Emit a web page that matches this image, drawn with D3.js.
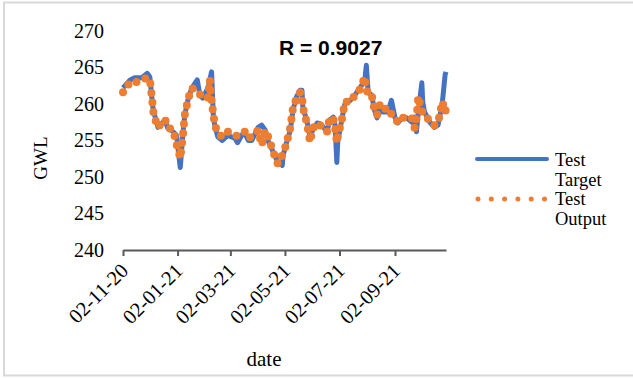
<!DOCTYPE html>
<html>
<head>
<meta charset="utf-8">
<script src="https://cdn.jsdelivr.net/npm/d3@7"></script>
<style>
	body { margin: 0; background: #fff; }
	svg { display: block; }
</style>
</head>
<body>
<svg id="chart" width="633" height="378"></svg>
<script>
// dates of the readings
var dates = [
	"2020-11-02","2020-11-10","2020-11-15","2020-11-23","2020-11-29","2020-12-02","2020-12-04","2020-12-06",
	"2020-12-10","2020-12-11","2020-12-19","2020-12-22","2020-12-28","2021-01-01","2021-01-02","2021-01-05",
	"2021-01-08","2021-01-10","2021-01-14","2021-01-18","2021-01-24","2021-01-27","2021-01-30","2021-02-05",
	"2021-02-07","2021-02-09","2021-02-11","2021-02-13","2021-02-16","2021-02-21","2021-02-27","2021-03-07",
	"2021-03-10","2021-03-15","2021-03-18","2021-03-22","2021-03-26","2021-04-02","2021-04-06","2021-04-10",
	"2021-04-13","2021-04-19","2021-04-24","2021-04-29","2021-04-30","2021-05-04","2021-05-08","2021-05-11",
	"2021-05-15","2021-05-19","2021-05-21","2021-05-22","2021-05-27","2021-05-30","2021-06-02","2021-06-07",
	"2021-06-10","2021-06-12","2021-06-18","2021-06-21","2021-06-25","2021-06-27","2021-06-29","2021-06-30",
	"2021-07-05","2021-07-08","2021-07-14","2021-07-19","2021-07-23","2021-07-27","2021-07-30","2021-08-01",
	"2021-08-03","2021-08-07","2021-08-10","2021-08-13","2021-08-16","2021-08-19","2021-08-25","2021-08-29",
	"2021-09-02","2021-09-05","2021-09-10","2021-09-15","2021-09-21","2021-09-24","2021-09-26","2021-09-28",
	"2021-10-02","2021-10-03","2021-10-05","2021-10-11","2021-10-16","2021-10-20","2021-10-23","2021-10-25",
	"2021-10-28","2021-10-29"
];
// observed GWL (Test Target)
var target = [
	262.2,263.3,263.6,263.6,264.2,263.7,261.2,258.9,
	257.5,256.8,257.8,256.7,256.2,255.7,254.4,251.3,
	256.0,258.5,260.8,262.2,263.3,261.2,260.8,262.2,
	263.3,264.4,258.2,256.8,255.5,255.0,255.7,255.3,
	254.7,255.8,256.0,255.0,255.0,256.8,257.1,256.4,
	255.0,253.4,252.0,251.6,253.0,254.8,256.4,259.2,
	261.0,261.9,261.9,259.6,257.4,255.5,256.4,257.4,
	257.3,257.1,256.2,257.8,258.2,257.1,252.0,254.8,
	258.2,260.0,260.5,261.2,261.9,262.6,263.0,265.3,
	261.6,261.2,259.2,258.1,259.9,258.9,258.9,260.5,
	258.1,257.4,258.1,258.1,257.5,258.2,256.2,258.8,
	262.9,260.3,258.9,257.5,256.8,257.1,258.9,260.3,
	264.0,264.4
];
// model GWL (Test Output)
var output = [
	261.6,263.0,262.9,263.3,263.6,263.4,261.2,258.9,
	257.0,256.8,257.9,256.8,256.4,254.4,254.0,252.6,
	255.7,258.5,260.8,262.2,261.6,261.3,260.8,260.9,
	263.3,260.5,258.5,257.0,256.0,255.5,256.2,255.7,
	255.6,256.0,256.2,255.3,255.6,256.4,254.4,256.4,
	255.6,253.4,251.8,253.0,253.2,254.7,256.8,259.5,
	260.8,261.6,261.2,259.6,257.1,254.8,256.6,257.4,
	257.1,257.0,256.2,258.1,258.0,256.8,254.7,255.5,
	258.1,260.3,260.3,261.2,261.6,262.6,263.7,262.2,
	261.2,261.2,259.2,258.5,259.9,259.2,259.5,258.6,
	258.1,257.5,258.2,257.8,258.0,256.7,258.0,261.0,
	259.0,258.9,258.8,257.5,257.1,257.4,259.2,260.3,
	258.9,259.3
];
var yTicks = [240, 245, 250, 255, 260, 265, 270];
var xTicks = ["2020-11-02","2021-01-02","2021-03-02","2021-05-02","2021-07-02","2021-09-02"];
var seriesNames = [["Test", "Target"], ["Test", "Output"]];
var rText = "R = 0.9027";

var parse = d3.timeParse("%Y-%m-%d");
var rows = dates.map(function(d, i){
	return {date: parse(d), target: target[i], output: output[i]};
});

var svg = d3.select("#chart");
var blue = "#4472C4", orange = "#ED7D31";
var serif = "'Liberation Serif', 'Times New Roman', serif";

//outer frame
svg.append("rect")
	.attr("x", 4).attr("y", 2.5)
	.attr("width", 640).attr("height", 373)
	.attr("fill", "none")
	.attr("stroke", "#d9d9d9")
	.attr("stroke-width", 2);

var x = d3.scaleTime()
	.domain([parse(dates[0]), parse(dates[dates.length - 1])])
	.range([123, 446]);
var y = d3.scaleLinear().domain([240, 270]).range([250, 31]);

//x axis
var xAxis = svg.append("g")
	.attr("transform", "translate(0,250)")
	.call(d3.axisBottom(x)
		.tickValues(xTicks.map(parse))
		.tickFormat(d3.timeFormat("%d-%m-%y"))
		.tickSize(6)
		.tickSizeOuter(0));
xAxis.select(".domain").attr("stroke", "#595959").attr("stroke-width", 2);
xAxis.selectAll(".tick line").attr("stroke", "#595959").attr("stroke-width", 2);
xAxis.selectAll(".tick text")
	.attr("font-family", serif)
	.attr("font-size", "20.5px")
	.attr("fill", "#000")
	.attr("text-anchor", "end")
	.attr("dy", null)
	.attr("y", 0)
	.attr("transform", "translate(6,22) rotate(-45)");

//y axis, labels only
var yAxis = svg.append("g")
	.attr("transform", "translate(123,0)")
	.call(d3.axisLeft(y).tickValues(yTicks).tickSize(0).tickPadding(19));
yAxis.select(".domain").remove();
yAxis.selectAll(".tick text")
	.attr("font-family", serif)
	.attr("font-size", "20px")
	.attr("fill", "#000");

//lines
var lineT = d3.line().x(function(d){return x(d.date)}).y(function(d){return y(d.target)});
var lineO = d3.line().x(function(d){return x(d.date)}).y(function(d){return y(d.output)});

svg.append("path")
	.datum(rows)
	.attr("d", lineT)
	.attr("fill", "none")
	.attr("stroke", blue)
	.attr("stroke-width", 5)
	.attr("stroke-linejoin", "round");

svg.append("path")
	.datum(rows)
	.attr("d", lineO)
	.attr("fill", "none")
	.attr("stroke", orange)
	.attr("stroke-width", 8)
	.attr("stroke-linecap", "round")
	.attr("stroke-linejoin", "round")
	.attr("stroke-dasharray", "0, 9.5");

//R value
svg.append("text")
	.text(rText)
	.attr("x", 279)
	.attr("y", 55)
	.attr("font-family", "'Liberation Sans', Arial, sans-serif")
	.attr("font-weight", "bold")
	.attr("font-size", "21px")
	.attr("fill", "#000");

//axis titles
svg.append("text")
	.text("date")
	.attr("x", 264)
	.attr("y", 366)
	.attr("text-anchor", "middle")
	.attr("font-family", serif)
	.attr("font-size", "21px");

svg.append("text")
	.text("GWL")
	.attr("transform", "translate(47,158) rotate(-90)")
	.attr("text-anchor", "middle")
	.attr("font-family", serif)
	.attr("font-size", "19px");

//legend
var legend = svg.append("g");
legend.append("line")
	.attr("x1", 477).attr("x2", 547)
	.attr("y1", 159).attr("y2", 159)
	.attr("stroke", blue)
	.attr("stroke-width", 4)
	.attr("stroke-linecap", "round");
legend.append("line")
	.attr("x1", 478).attr("x2", 545)
	.attr("y1", 199).attr("y2", 199)
	.attr("stroke", orange)
	.attr("stroke-width", 5)
	.attr("stroke-linecap", "round")
	.attr("stroke-dasharray", "0, 13.3");

legend.selectAll("text.leg")
	.data(seriesNames)
	.enter().append("text")
	.attr("class", "leg")
	.attr("x", 555)
	.attr("y", function(d, i){return 166 + i * 39})
	.attr("font-family", serif)
	.attr("font-size", "18.5px")
	.each(function(d){
		var t = d3.select(this);
		t.append("tspan").attr("x", 555).text(d[0]);
		t.append("tspan").attr("x", 555).attr("dy", 20).text(d[1]);
	});
</script>
</body>
</html>
